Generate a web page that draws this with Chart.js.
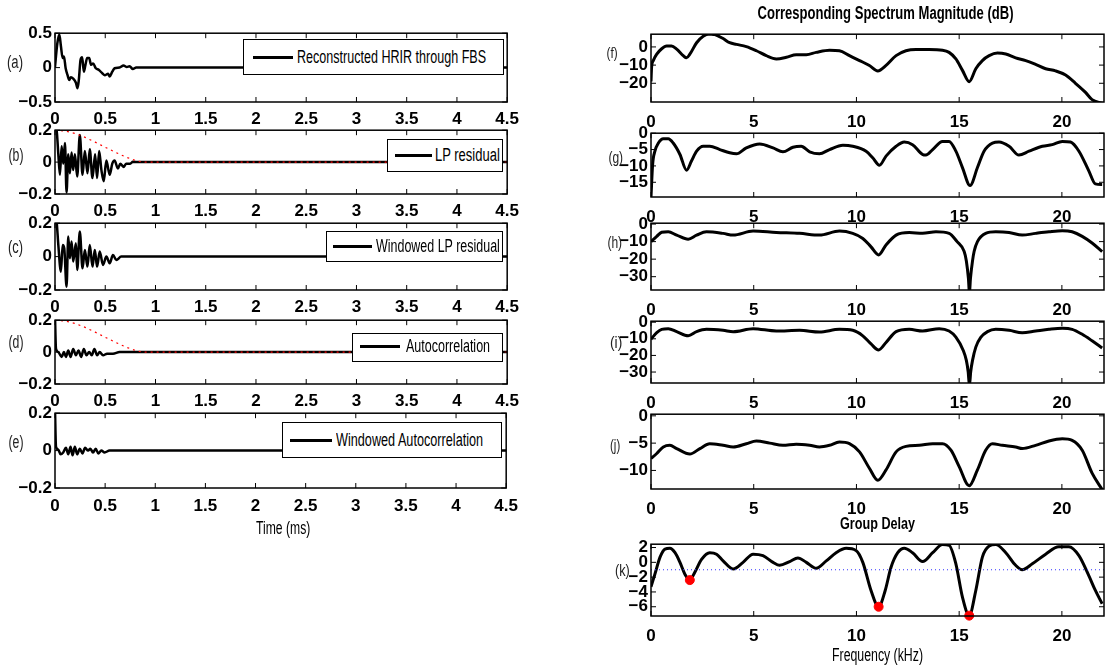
<!DOCTYPE html>
<html>
<head>
<meta charset="utf-8">
<script src="https://cdn.jsdelivr.net/npm/chart.js@4.4.1/dist/chart.umd.min.js"></script>
<style>
  body { margin: 0; background: #fff; }
  #page { position: relative; width: 1107px; height: 670px; overflow: hidden;
          font-family: "Liberation Sans", Arial, sans-serif; }
  .plot { position: absolute; }
  .txt { position: absolute; white-space: nowrap; line-height: 1; color: #000; }
  .legend { position: absolute; background: #fff; border: 1px solid #000; box-sizing: border-box; z-index: 5; }
  .swatch { position: absolute; height: 3px; background: #000; z-index: 6; }
</style>
</head>
<body>
<div id="page"></div>
<script>
// ---- time domain (ms) ----
const timeA = [0, 0.023, 0.043, 0.059, 0.076, 0.089, 0.106, 0.125, 0.142, 0.158, 0.181, 0.208, 0.224, 0.237, 0.254, 0.270, 0.287, 0.303, 0.320, 0.340, 0.359, 0.379, 0.406, 0.435, 0.462, 0.495, 0.528, 0.544, 0.570, 0.593, 0.643, 0.682, 0.715, 0.742, 0.775, 0.808, 4.5];
const hrirA = [0.01, 0.35, 0.48, 0.31, 0.14, 0.16, -0.01, -0.11, -0.18, -0.14, -0.16, -0.22, -0.30, -0.18, 0.11, 0.15, -0.06, 0.04, 0.14, 0.14, 0.04, 0.06, -0.01, -0.03, -0.07, -0.11, -0.09, -0.13, -0.06, -0.01, 0, 0.03, 0.01, 0.02, -0.02, 0, 0];

const timeB = [0, 0.016, 0.033, 0.049, 0.066, 0.082, 0.099, 0.115, 0.132, 0.148, 0.165, 0.181, 0.198, 0.221, 0.247, 0.274, 0.297, 0.323, 0.346, 0.373, 0.399, 0.419, 0.439, 0.462, 0.485, 0.511, 0.544, 0.570, 0.593, 0.626, 0.650, 0.682, 0.709, 0.748, 0.775, 0.841, 4.5];
const residB = [0.22, 0.2, 0.05, -0.08, 0.1, -0.01, 0.12, -0.19, 0.05, -0.07, 0.06, -0.05, 0.05, -0.09, 0.17, -0.08, 0.07, -0.07, 0.08, -0.1, 0.05, -0.1, 0.07, -0.05, -0.12, 0.01, -0.08, -0.01, 0.01, -0.04, -0.01, -0.03, -0.01, -0.01, 0.002, 0, 0];

const timeC = [0, 0.016, 0.033, 0.059, 0.076, 0.092, 0.115, 0.132, 0.148, 0.165, 0.181, 0.208, 0.221, 0.247, 0.274, 0.297, 0.323, 0.346, 0.373, 0.396, 0.419, 0.445, 0.478, 0.511, 0.544, 0.577, 0.610, 0.659, 0.709, 0.775, 4.5];
const winResC = [0.24, 0.21, 0.07, -0.09, 0.07, 0.05, -0.18, 0.12, -0.01, 0.09, -0.03, 0.08, -0.08, 0.15, -0.07, 0.04, -0.06, 0.07, -0.06, 0.04, -0.06, 0.03, -0.05, 0, -0.04, 0.01, -0.02, 0, 0, 0, 0];

const timeD = [0, 0.01, 0.033, 0.066, 0.089, 0.109, 0.132, 0.155, 0.181, 0.208, 0.234, 0.260, 0.287, 0.313, 0.340, 0.366, 0.392, 0.419, 0.445, 0.478, 0.518, 0.577, 0.643, 4.5];
const autoD = [0.22, 0.02, 0, -0.03, 0, -0.03, 0.01, -0.03, 0.02, -0.02, 0.01, -0.03, 0.02, -0.02, 0, -0.02, 0.02, -0.02, 0, -0.02, -0.01, -0.01, 0, 0];

const timeE = [0, 0.01, 0.033, 0.056, 0.082, 0.109, 0.132, 0.155, 0.175, 0.198, 0.221, 0.247, 0.274, 0.300, 0.330, 0.353, 0.379, 0.406, 0.432, 0.462, 0.495, 0.544, 0.610, 4.5];
const winAutoE = [0.22, 0.02, 0.005, -0.02, -0.01, 0.015, -0.02, 0.02, -0.025, 0.02, -0.02, 0.01, -0.015, 0.015, 0, 0.01, -0.01, 0.01, -0.015, 0, -0.01, 0, 0, 0];

// red dotted analysis window (panels b, d)
const winT = [0, 0.1, 0.2, 0.3, 0.4, 0.5, 0.6, 0.7, 0.8, 0.87, 4.5];
const winV = [0.2, 0.195, 0.18, 0.155, 0.125, 0.093, 0.062, 0.033, 0.01, 0, 0];

// ---- frequency domain (kHz) ----
const freqF = [0, 0.03, 0.11, 0.28, 0.52, 0.76, 1.0, 1.25, 1.57, 1.73, 1.89, 2.22, 2.54, 2.86, 3.11, 3.51, 3.83, 4.16, 4.64, 5.13, 5.61, 6.1, 6.59, 7.07, 7.56, 8.04, 8.69, 9.17, 9.66, 10.15, 10.63, 11.04, 11.44, 11.93, 12.41, 12.9, 13.54, 14.19, 14.51, 14.84, 15.16, 15.49, 15.81, 16.13, 16.46, 16.86, 17.27, 17.75, 18.24, 18.72, 19.21, 19.69, 20.18, 20.66, 21.15, 21.47, 21.96];
const magF = [-19, -11, -7.5, -4, -1, 0.5, 0.5, -1.2, -4.8, -6, -4, 2.3, 5.9, 7.1, 6.8, 4.6, 2.3, 1.4, 0.2, -2.1, -4.8, -6.6, -5.7, -4.3, -4.3, -3, -1.8, -2.1, -4.8, -7.5, -10.2, -13.2, -10.2, -4.8, -2.1, -1.4, -1.4, -1.8, -3, -6.6, -12.9, -19.1, -12, -7.5, -4.8, -3.4, -3.9, -6, -7.5, -9.6, -12, -13.2, -15.5, -20, -25, -29, -31];

const freqG = [0, 0.08, 0.19, 0.36, 0.6, 0.84, 1.08, 1.41, 1.73, 1.97, 2.22, 2.54, 2.86, 3.35, 3.83, 4.16, 4.64, 5.29, 5.94, 6.42, 6.91, 7.31, 7.72, 8.2, 8.69, 9.34, 9.82, 10.47, 10.79, 11.12, 11.44, 11.93, 12.33, 12.73, 13.22, 13.38, 13.71, 14.19, 14.51, 14.84, 15.16, 15.53, 15.89, 16.21, 16.62, 16.94, 17.43, 17.91, 18.4, 19.05, 19.53, 20.02, 20.42, 20.83, 21.31, 21.63, 21.96];
const magG = [-19.5, -9.5, -5.5, -3, -1.7, -1.7, -3, -6.5, -11.3, -8.5, -5.5, -4, -4, -5, -6, -6.3, -4.5, -3.3, -4.5, -5.7, -4.3, -4, -5.7, -6.3, -5, -3.7, -4, -5.5, -7.5, -9.8, -7, -4, -2.7, -3.5, -6.5, -6.7, -5, -2.5, -2.5, -5.5, -10.5, -16, -10.5, -5.5, -3, -2.7, -4, -6.7, -5.5, -4, -3.5, -2.5, -2.7, -5.5, -11.5, -15.5, -15.7];

const freqH = [0, 0.28, 0.52, 0.84, 1.25, 1.81, 2.22, 2.7, 3.51, 4.0, 4.97, 6.1, 7.23, 8.2, 9.17, 9.82, 10.31, 10.71, 11.08, 11.44, 11.93, 12.57, 13.22, 13.87, 14.51, 14.9, 15.24, 15.35, 15.45, 15.5, 15.55, 15.65, 15.73, 15.89, 16.29, 16.78, 17.43, 18.07, 18.72, 19.37, 20.02, 20.5, 20.99, 21.47, 21.96];
const magH = [-10, -7, -4.7, -4.4, -6.3, -8.6, -6.3, -4.4, -5.3, -6.3, -4, -4.8, -5.3, -6.3, -4, -5.3, -8.2, -13, -17.6, -11.9, -6.3, -4.8, -5.3, -4.4, -5.3, -10, -15.5, -21, -31, -39, -31, -21, -15.5, -10, -5.3, -4.4, -4.8, -6.3, -5.3, -4.4, -3.8, -4.4, -7, -10.8, -15.7];

const freqI = [0, 0.28, 0.52, 0.84, 1.25, 1.81, 2.22, 2.7, 3.51, 4.0, 4.97, 6.1, 7.23, 8.2, 9.17, 9.82, 10.31, 10.71, 11.08, 11.44, 11.93, 12.57, 13.22, 14.03, 14.51, 14.84, 15.2, 15.35, 15.44, 15.5, 15.56, 15.65, 15.81, 16.05, 16.38, 16.78, 17.43, 18.07, 18.72, 19.37, 20.02, 20.5, 20.99, 21.47, 21.96];
const magI = [-10.2, -6.3, -4.3, -3.9, -5.7, -8.2, -5.7, -4.3, -4.9, -5.7, -3.9, -5.3, -4.9, -5.9, -4.3, -4.9, -8.2, -13.1, -16.7, -12.2, -5.7, -4.3, -5.3, -3.9, -5.3, -9, -17, -23, -30, -38, -30, -23, -15, -9.2, -5.7, -4.3, -4.9, -6.3, -5.3, -4.3, -3.7, -4.3, -7.3, -11.2, -15.5];

const freqJ = [0, 0.28, 0.6, 0.92, 1.25, 1.89, 2.38, 2.86, 3.51, 4.0, 4.64, 5.13, 5.78, 6.42, 7.07, 7.72, 8.2, 8.69, 9.17, 9.66, 10.15, 10.63, 11.04, 11.44, 11.93, 12.41, 13.06, 13.71, 14.19, 14.6, 15.0, 15.49, 15.89, 16.29, 16.62, 17.1, 17.75, 18.07, 18.72, 19.37, 20.02, 20.5, 20.99, 21.47, 21.96];
const magJ = [-7.8, -6.9, -5.7, -5.4, -6, -7, -6, -5.1, -5.4, -5.7, -5.1, -4.6, -5, -5.4, -5.2, -5.4, -5.7, -5.4, -4.8, -5.1, -6.6, -9.6, -11.8, -9.9, -6.6, -5.6, -5.4, -5.1, -5.1, -6.3, -9.3, -12.8, -9.9, -6.3, -5.1, -5.4, -5.7, -6, -5.4, -4.6, -4.2, -4.5, -6.3, -10.5, -13.5];

const freqK = [0, 0.19, 0.44, 0.68, 0.92, 1.17, 1.41, 1.65, 1.89, 2.14, 2.46, 2.86, 3.19, 3.51, 4.0, 4.48, 4.97, 5.45, 5.94, 6.26, 6.75, 7.15, 7.56, 8.04, 8.53, 9.01, 9.5, 9.98, 10.31, 10.71, 11.08, 11.4, 11.68, 12.01, 12.33, 12.73, 13.22, 13.71, 14.19, 14.51, 14.84, 15.16, 15.49, 15.81, 16.13, 16.46, 16.78, 17.27, 17.75, 18.07, 18.56, 19.21, 19.85, 20.34, 20.83, 21.31, 21.63, 21.96];
const delayK = [-3.3, -1.6, 0.7, 1.8, 1.9, 1.3, 0, -1.6, -2.4, -1.3, 0.4, 1.3, 1.1, 0.2, -0.9, 0, 1.1, 0.9, 0, -0.4, 0.1, 0.6, 0, -0.8, 0.2, 1.3, 1.9, 1.6, 0, -3.8, -6, -3.8, -0.7, 1.3, 1.9, 1.3, 0.1, 1.3, 2.4, 2.3, -0.2, -4.7, -7.2, -3.8, 0.7, 2.2, 2.4, 1.3, -0.4, -1, -0.2, 1.1, 2.1, 2.1, 0.9, -1.8, -3.8, -5.6];
const notchF = [1.89, 11.08, 15.49];
const notchDelay = [-2.4, -6.0, -7.2];
const delayRef = -1;

// ---- tick labels ----
const timeTicks = [0, 0.5, 1, 1.5, 2, 2.5, 3, 3.5, 4, 4.5];
const freqTicks = [0, 5, 10, 15, 20];
const ampTicksA = [-0.5, 0, 0.5];
const ampTicks = [-0.2, 0, 0.2];
const ticksF = [-20, -10, 0];
const ticksG = [-15, -10, -5, 0];
const ticksH = [-30, -20, -10, 0];
const ticksI = [-30, -20, -10, 0];
const ticksJ = [-10, -5, 0];
const ticksK = [-6, -4, -2, 0, 2];

const page = document.getElementById('page');
const tickFont = { family: '"Liberation Sans Narrow", "Liberation Sans", Arial, sans-serif', size: 17, weight: 'bold' };

function fmt(v) {
  const s = String(Math.abs(v));
  return v < 0 ? '\u2212' + s : s;
}

function pts(xs, ys) {
  return xs.map((x, i) => ({ x: x, y: ys[i] }));
}

function trace(xs, ys, w) {
  return {
    data: pts(xs, ys), borderColor: '#000', borderWidth: w, pointRadius: 0,
    cubicInterpolationMode: 'monotone', borderJoinStyle: 'round', order: 1
  };
}

function dotted(xs, ys, color, dash) {
  return {
    data: pts(xs, ys), borderColor: color, borderWidth: 1.2, borderDash: dash,
    pointRadius: 0, tension: 0, order: 0
  };
}

// box + inward ticks, matlab style
const frame = {
  id: 'frame',
  afterDatasetsDraw(chart) {
    const { ctx, chartArea: a, scales } = chart;
    ctx.save();
    ctx.strokeStyle = '#000';
    ctx.lineWidth = 1;
    ctx.beginPath();
    scales.x.ticks.forEach(t => {
      const px = scales.x.getPixelForValue(t.value);
      ctx.moveTo(px, a.bottom); ctx.lineTo(px, a.bottom - 5);
      ctx.moveTo(px, a.top); ctx.lineTo(px, a.top + 5);
    });
    scales.y.ticks.forEach(t => {
      const py = scales.y.getPixelForValue(t.value);
      ctx.moveTo(a.left, py); ctx.lineTo(a.left + 5, py);
      ctx.moveTo(a.right, py); ctx.lineTo(a.right - 5, py);
    });
    ctx.stroke();
    ctx.lineWidth = 1.5;
    ctx.strokeRect(a.left, a.top, a.right - a.left, a.bottom - a.top);
    ctx.restore();
  }
};

// box = [left, top, right, bottom] of the plot area in page pixels
function addPlot(box, xMin, xMax, xTicks, yMin, yMax, yTicks, datasets, labelPad) {
  const yW = 60, padT = 12, padR = 16, xH = labelPad + 24;
  const div = document.createElement('div');
  div.className = 'plot';
  div.style.left = (box[0] - yW) + 'px';
  div.style.top = (box[1] - padT) + 'px';
  div.style.width = (box[2] - box[0] + yW + padR) + 'px';
  div.style.height = (box[3] - box[1] + padT + xH) + 'px';
  const cv = document.createElement('canvas');
  div.appendChild(cv);
  page.appendChild(div);
  new Chart(cv, {
    type: 'line',
    data: { datasets: datasets },
    options: {
      animation: false,
      responsive: true,
      maintainAspectRatio: false,
      layout: { padding: { top: padT, right: padR, left: 0, bottom: 0 } },
      plugins: { legend: { display: false }, tooltip: { enabled: false } },
      scales: {
        x: {
          type: 'linear', min: xMin, max: xMax,
          afterBuildTicks: s => { s.ticks = xTicks.map(v => ({ value: v })); },
          afterFit: s => { s.height = xH; },
          grid: { display: false, drawTicks: false },
          border: { display: false },
          ticks: { font: tickFont, color: '#000', padding: labelPad, maxRotation: 0, autoSkip: false, callback: fmt }
        },
        y: {
          type: 'linear', min: yMin, max: yMax,
          afterBuildTicks: s => { s.ticks = yTicks.map(v => ({ value: v })); },
          afterFit: s => { s.width = yW; },
          grid: { display: false, drawTicks: false },
          border: { display: false },
          ticks: { font: tickFont, color: '#000', padding: 3, autoSkip: false, callback: fmt }
        }
      }
    },
    plugins: [frame]
  });
}

// text squeezed to the width it has in the figure
function addText(str, cx, cy, w, size, bold, color, leftAlign) {
  const el = document.createElement('div');
  el.className = 'txt';
  el.textContent = str;
  el.style.fontSize = size + 'px';
  if (bold) el.style.fontWeight = 'bold';
  if (color) el.style.color = color;
  page.appendChild(el);
  const nw = el.offsetWidth, nh = el.offsetHeight;
  el.style.top = (cy - nh / 2) + 'px';
  if (leftAlign) {
    el.style.left = cx + 'px';
    el.style.transformOrigin = 'left center';
  } else {
    el.style.left = (cx - nw / 2) + 'px';
  }
  el.style.transform = 'scaleX(' + (w / nw) + ')';
  el.style.zIndex = 7;
}

function addLegend(label, box, sw, tx) {
  const b = document.createElement('div');
  b.className = 'legend';
  b.style.left = box[0] + 'px';
  b.style.top = box[1] + 'px';
  b.style.width = (box[2] - box[0]) + 'px';
  b.style.height = (box[3] - box[1]) + 'px';
  page.appendChild(b);
  const s = document.createElement('div');
  s.className = 'swatch';
  s.style.left = sw[0] + 'px';
  s.style.width = (sw[1] - sw[0]) + 'px';
  s.style.top = (sw[2] - 1.5) + 'px';
  page.appendChild(s);
  addText(label, tx[0], sw[2], tx[1] - tx[0], 18, false, '#000', true);
}

// ---- left column: time signals ----
const T0 = 0, T1 = 4.5;
addPlot([55, 32, 510, 102], T0, T1, timeTicks, -0.5, 0.5, ampTicksA,
  [trace(timeA, hrirA, 2.5)], 7);
addPlot([55, 129, 510, 194], T0, T1, timeTicks, -0.2, 0.2, ampTicks,
  [dotted(winT, winV, '#ff0000', [2, 4]), trace(timeB, residB, 2.5)], 7);
addPlot([55, 222, 510, 290], T0, T1, timeTicks, -0.2, 0.2, ampTicks,
  [trace(timeC, winResC, 2.5)], 7);
addPlot([55, 319, 510, 384], T0, T1, timeTicks, -0.2, 0.2, ampTicks,
  [dotted(winT, winV, '#ff0000', [2, 4]), trace(timeD, autoD, 2.5)], 7);
addPlot([55, 412, 510, 488], T0, T1, timeTicks, -0.2, 0.2, ampTicks,
  [trace(timeE, winAutoE, 2.5)], 8);

// ---- right column: spectra ----
const F0 = 0, F1 = 22.05;
addPlot([651, 33, 1104, 102], F0, F1, freqTicks, -30.3, 7, ticksF, [trace(freqF, magF, 3)], 10);
addPlot([651, 132, 1104, 197], F0, F1, freqTicks, -19.5, 0, ticksG, [trace(freqG, magG, 3)], 10);
addPlot([651, 222, 1104, 290], F0, F1, freqTicks, -37.6, 0.5, ticksH, [trace(freqH, magH, 3)], 10);
addPlot([651, 320, 1104, 383], F0, F1, freqTicks, -36.6, 0.6, ticksI, [trace(freqI, magI, 3)], 10);
addPlot([651, 413, 1104, 489], F0, F1, freqTicks, -13.4, 0.3, ticksJ, [trace(freqJ, magJ, 3)], 10);
addPlot([651, 543, 1104, 616], F0, F1, freqTicks, -7.25, 2.45, ticksK, [
  { data: pts(notchF, notchDelay), showLine: false, pointRadius: 4.5, pointBackgroundColor: '#ff0000',
    pointBorderColor: '#ff0000', clip: false, order: 0 },
  dotted([F0, F1], [delayRef, delayRef], '#3333ff', [1, 3]),
  trace(freqK, delayK, 3)
], 10);

// ---- legends ----
addLegend('Reconstructed HRIR through FBS', [243, 39, 504, 75], [253, 293, 57], [297, 486]);
addLegend('LP residual', [387, 139, 503, 172], [395, 432, 155], [435, 500]);
addLegend('Windowed LP residual', [326, 231, 503, 262], [333, 372, 246], [376, 500]);
addLegend('Autocorrelation', [352, 333, 503, 362], [360, 400, 346], [406, 490]);
addLegend('Windowed Autocorrelation', [282, 422, 502, 458], [290, 332, 440], [336, 483]);

// ---- panel tags ----
const tagColor = '#222';
addText('(a)', 15, 62, 16, 18, false, tagColor);
addText('(b)', 15.5, 155, 15, 18, false, tagColor);
addText('(c)', 15.5, 247, 15, 18, false, tagColor);
addText('(d)', 15.5, 342, 15, 18, false, tagColor);
addText('(e)', 15.5, 442, 15, 18, false, tagColor);
addText('(f)', 612, 52, 11, 15, false, tagColor);
addText('(g)', 616, 158, 15, 16, false, tagColor);
addText('(h)', 614.5, 243, 15, 16, false, tagColor);
addText('(i)', 616, 343, 12, 16, false, tagColor);
addText('(j)', 615, 446, 10, 16, false, tagColor);
addText('(k)', 622, 571, 15, 16, false, tagColor);

// ---- titles and axis names ----
addText('Corresponding Spectrum Magnitude (dB)', 885, 13, 256, 18, true);
addText('Group Delay', 877, 523, 75, 17, true);
addText('Frequency (kHz)', 877, 655, 91, 18, false);
addText('Time (ms)', 283, 528, 54, 18, false);
</script>
</body>
</html>
